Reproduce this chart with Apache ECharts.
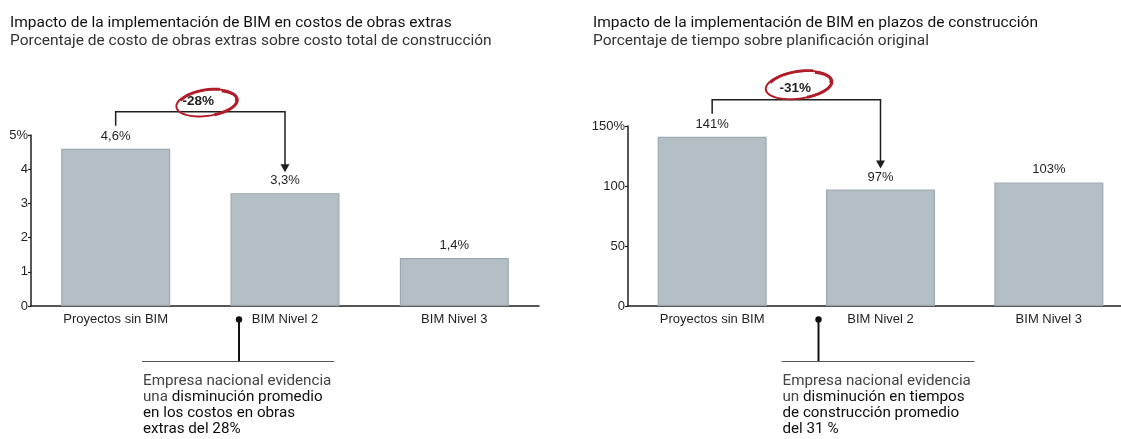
<!DOCTYPE html>
<html>
<head>
<meta charset="utf-8">
<script src="https://cdn.jsdelivr.net/npm/echarts@6/dist/echarts.min.js"></script>
<style>
  html, body { margin: 0; padding: 0; background: #ffffff; }
  #main { width: 1121px; height: 439px; }
</style>
</head>
<body>
<div id="main"></div>
<script>
// ---- data ----
const categories = ['Proyectos sin BIM', 'BIM Nivel 2', 'BIM Nivel 3'];
const costValues = [4.6, 3.3, 1.4];          // % of total construction cost
const timeValues = [141, 97, 103];           // % of planned time
const costTicks = ['0', '1', '2', '3', '4', '5%'];
const timeTicks = ['0', '50', '100', '150%'];
const costChange = '-28%';
const timeChange = '-31%';

const costTitle = 'Impacto de la implementación de BIM en costos de obras extras';
const costSubtitle = 'Porcentaje de costo de obras extras sobre costo total de construcción';
const timeTitle = 'Impacto de la implementación de BIM en plazos de construcción';
const timeSubtitle = 'Porcentaje de tiempo sobre planificación original';

const costNote = [
  [['n', 'Empresa nacional evidencia']],
  [['n', 'una '], ['b', 'disminución promedio']],
  [['b', 'en los costos en obras']],
  [['b', 'extras del 28%']]
];
const timeNote = [
  [['n', 'Empresa nacional evidencia']],
  [['n', 'un '], ['b', 'disminución en tiempos']],
  [['b', 'de construcción promedio']],
  [['b', 'del 31 %']]
];

// ---- styles ----
const SANS = '"Liberation Sans", Arial, sans-serif';
const TITLE_FONT = 'Roboto, "Liberation Sans", sans-serif';
const INK = '#1f1f1f';
const BAR = '#b4bec5';
const BAR_EDGE = '#9da9b1';
const RED = '#b01e2a';

const chart = echarts.init(document.getElementById('main'), null, { renderer: 'canvas' });

function decimalComma(v) { return String(v).replace('.', ','); }

function titleBlock(text, sub, left) {
  return {
    text: text, subtext: sub, left: left, top: 10, itemGap: 1,
    textStyle: { fontFamily: TITLE_FONT, fontSize: 15.5, fontWeight: 'normal', color: '#111111', lineHeight: 17 },
    subtextStyle: { fontFamily: TITLE_FONT, fontSize: 15.5, color: '#333333', lineHeight: 17 }
  };
}

function yAxisFor(gridIndex, max, interval, ticks) {
  return {
    gridIndex: gridIndex, type: 'value', min: 0, max: max, interval: interval,
    splitLine: { show: false },
    axisLine: { show: true, lineStyle: { color: INK, width: 1.5 } },
    axisTick: { show: true, length: 3, lineStyle: { color: INK, width: 1.2 } },
    axisLabel: {
      margin: 3, fontFamily: SANS, fontSize: 13, color: INK,
      formatter: function (v, i) { return ticks[i]; }
    }
  };
}

function xAxisFor(gridIndex) {
  return {
    gridIndex: gridIndex, type: 'category', data: categories,
    axisLine: { show: true, lineStyle: { color: INK, width: 1.5 } },
    axisTick: { show: false },
    axisLabel: { margin: 7, fontFamily: SANS, fontSize: 13, color: INK }
  };
}

function barSeries(idx, values, fmt) {
  return {
    type: 'bar', xAxisIndex: idx, yAxisIndex: idx, data: values, barWidth: 109,
    itemStyle: { color: BAR, borderColor: BAR_EDGE, borderWidth: 1.2 },
    label: {
      show: true, position: 'top', distance: 6,
      fontFamily: SANS, fontSize: 13, color: INK, formatter: fmt
    },
    emphasis: { disabled: true }
  };
}

chart.setOption({
  animation: false,
  backgroundColor: '#ffffff',
  title: [titleBlock(costTitle, costSubtitle, 5), titleBlock(timeTitle, timeSubtitle, 588)],
  grid: [
    { left: 31, top: 135, width: 508, height: 171, outerBoundsMode: 'none' },
    { left: 628, top: 126, width: 505, height: 180, outerBoundsMode: 'none' }
  ],
  xAxis: [xAxisFor(0), xAxisFor(1)],
  yAxis: [yAxisFor(0, 5, 1, costTicks), yAxisFor(1, 150, 50, timeTicks)],
  series: [
    barSeries(0, costValues, function (p) { return decimalComma(p.value) + '%'; }),
    barSeries(1, timeValues, function (p) { return p.value + '%'; })
  ]
});

// ---- annotations (placed from the axes' own scales) ----
function px(gridIndex, cat, val) {
  return chart.convertToPixel({ xAxisIndex: gridIndex, yAxisIndex: gridIndex }, [cat, val]);
}

// a loose, hand-drawn looking loop
function loopPoints(cx, cy, rx, ry, rot, from, sweep) {
  const pts = [];
  const n = 80;
  for (let i = 0; i <= n; i++) {
    const t = from + (i / n) * sweep;
    const k = 1 + 0.06 * Math.sin((t - from) * 0.5);
    const x = rx * k * Math.cos(t), y = ry * k * Math.sin(t);
    pts.push([cx + x * Math.cos(rot) - y * Math.sin(rot), cy + x * Math.sin(rot) + y * Math.cos(rot)]);
  }
  return pts;
}

function richNote(lines) {
  return lines.map(function (parts) {
    return parts.map(function (p) { return '{' + p[0] + '|' + p[1] + '}'; }).join('');
  }).join('\n');
}

function annotate(g, values, change, opt) {
  const a = px(g, 0, values[0]);
  const b = px(g, 1, values[1]);
  const base = px(g, 1, 0);
  const yH = a[1] - 37;
  const yStart = a[1] - 23;
  const yTip = b[1] - 21;
  const midX = (a[0] + b[0]) / 2;
  const els = [];
  els.push({
    type: 'polyline', silent: true,
    shape: { points: [[a[0], yStart], [a[0], yH], [b[0], yH], [b[0], yTip - 6]] },
    style: { stroke: INK, lineWidth: 1.5, fill: null }
  });
  els.push({
    type: 'polygon', silent: true,
    shape: { points: [[b[0] - 4.5, yTip - 8], [b[0] + 4.5, yTip - 8], [b[0], yTip]] },
    style: { fill: INK }
  });
  // circled change label
  const ex = midX + opt.ellDx, ey = yH + opt.ellDy;
  els.push({
    type: 'polyline', silent: true,
    shape: { points: loopPoints(ex, ey, opt.rx, opt.ry, -0.14, -0.5, Math.PI * 2 + 0.7) },
    style: { stroke: RED, lineWidth: 2, fill: null }
  });
  els.push({
    type: 'polyline', silent: true,
    shape: { points: loopPoints(ex + 0.4, ey + 0.4, opt.rx - 0.6, opt.ry - 0.5, -0.14, -1.0, 2.4) },
    style: { stroke: RED, lineWidth: 3, fill: null }
  });
  els.push({
    type: 'polyline', silent: true,
    shape: { points: loopPoints(ex, ey - 0.4, opt.rx - 0.4, opt.ry - 0.3, -0.14, 3.6, 1.6) },
    style: { stroke: RED, lineWidth: 2.8, fill: null }
  });
  els.push({
    type: 'text', silent: true,
    x: midX + opt.txtDx, y: yH + opt.txtDy,
    style: { text: change, fontFamily: SANS, fontSize: 13.5, fontWeight: 'bold', fill: '#222', align: 'center', verticalAlign: 'middle' }
  });
  // callout below the middle category
  const dotX = b[0] + opt.dotDx;
  const dotY = base[1] + 13.5;
  const lineY = base[1] + 55.5;
  els.push({ type: 'circle', silent: true, shape: { cx: dotX, cy: dotY, r: 3.2 }, style: { fill: '#111' } });
  els.push({
    type: 'line', silent: true,
    shape: { x1: dotX, y1: dotY, x2: dotX, y2: lineY },
    style: { stroke: '#111', lineWidth: 2 }
  });
  els.push({
    type: 'line', silent: true,
    shape: { x1: b[0] + opt.hl0, y1: lineY, x2: b[0] + opt.hl1, y2: lineY },
    style: { stroke: '#555', lineWidth: 1 }
  });
  els.push({
    type: 'text', silent: true,
    x: b[0] + opt.hl0 + 1, y: lineY + 12,
    style: {
      text: richNote(opt.note),
      rich: {
        n: { fontFamily: TITLE_FONT, fontSize: 15.2, fill: '#444444', lineHeight: 16 },
        b: { fontFamily: TITLE_FONT, fontSize: 15.2, fill: '#0d0d0d', fontWeight: 'normal', lineHeight: 16 }
      },
      align: 'left', verticalAlign: 'top'
    }
  });
  return els;
}

const graphics = []
  .concat(annotate(0, costValues, costChange, {
    ellDx: 7, ellDy: -9, rx: 29.5, ry: 12.5, txtDx: -2, txtDy: -10,
    dotDx: -46, hl0: -143, hl1: 49, note: costNote
  }))
  .concat(annotate(1, timeValues, timeChange, {
    ellDx: 3, ellDy: -15, rx: 32, ry: 13, txtDx: -1, txtDy: -12,
    dotDx: -62, hl0: -99, hl1: 94, note: timeNote
  }));

chart.setOption({ graphic: graphics });
</script>
</body>
</html>
